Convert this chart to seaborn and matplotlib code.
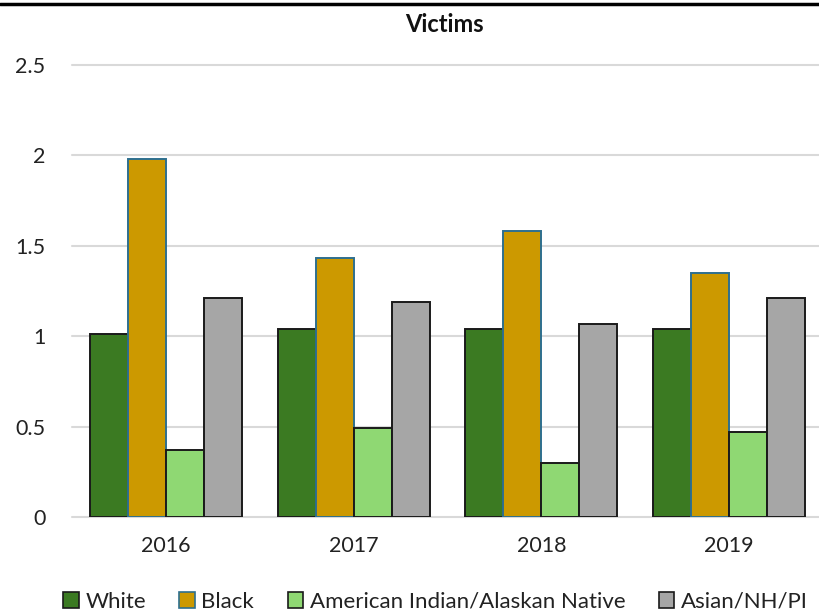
import matplotlib
matplotlib.use("Agg")
import matplotlib.pyplot as plt
from matplotlib.lines import Line2D
from matplotlib.patches import Patch
import seaborn as sns
import pandas as pd

years = ["2016", "2017", "2018", "2019"]
groups = ["White", "Black", "American Indian/Alaskan Native", "Asian/NH/PI"]
white = [1.01, 1.04, 1.04, 1.04]
black = [1.98, 1.43, 1.58, 1.35]
aian = [0.37, 0.49, 0.30, 0.47]
asian = [1.21, 1.19, 1.07, 1.21]
y_ticks = [0, 0.5, 1, 1.5, 2, 2.5]

fills = ["#3B7A22", "#CC9900", "#8FD873", "#A6A6A6"]
edges = ["#1A1A1A", "#2E6F8E", "#1A1A1A", "#1A1A1A"]

rows = []
for g, vals in zip(groups, [white, black, aian, asian]):
    for yr, v in zip(years, vals):
        rows.append({"Year": yr, "Group": g, "Value": v})
df = pd.DataFrame(rows)

sns.set_theme(style="white")
plt.rcParams["font.family"] = ["Lato", "DejaVu Sans"]

fig = plt.figure(figsize=(8.2, 6.15), dpi=100)
ax = fig.add_axes([72 / 820, 1 - 517 / 615, (823 - 72) / 820, (517 - 65) / 615])

sns.barplot(data=df, x="Year", y="Value", hue="Group", hue_order=groups,
            order=years, palette=fills, width=0.81, gap=0, ax=ax,
            errorbar=None, legend=False, saturation=1)

for cont, ec in zip(ax.containers, edges):
    for bar in cont:
        bar.set_edgecolor(ec)
        bar.set_linewidth(1.4)
        bar.set_zorder(3)

ax.set_xlim(-0.5, 3.5)
ax.set_ylim(0, 2.5)
ax.set_yticks(y_ticks)
ax.set_yticklabels(["0", "0.5", "1", "1.5", "2", "2.5"])
ax.yaxis.grid(True, color="#D9D9D9", linewidth=1.5, zorder=0)
for gl in ax.get_ygridlines():
    gl.set_clip_on(False)
ax.set_axisbelow(True)
for s in ax.spines.values():
    s.set_visible(False)
ax.tick_params(axis="y", length=0, pad=19, labelsize=15.5, labelcolor="#222222")
ax.tick_params(axis="x", length=0, pad=14, labelsize=15.5, labelcolor="#222222")
ax.set_xlabel("")
ax.set_ylabel("")

fig.text(0.5415, 1 - 24 / 615, "Victims", ha="center", va="center",
         fontsize=17, fontweight="bold", color="#111111")

handles = [Patch(facecolor=f, edgecolor=e, linewidth=1.2) for f, e in zip(fills, edges)]
fig.legend(handles, groups, loc="center", bbox_to_anchor=(0.531, 1 - 602 / 615),
           ncol=4, frameon=False, fontsize=16, handlelength=0.7, handleheight=0.75,
           handletextpad=0.3, columnspacing=1.5, labelcolor="#222222")

fig.add_artist(Line2D([0, 1], [1 - 4 / 615, 1 - 4 / 615], color="black",
                      linewidth=2.5, transform=fig.transFigure))

fig.savefig("out.png", dpi=100)
